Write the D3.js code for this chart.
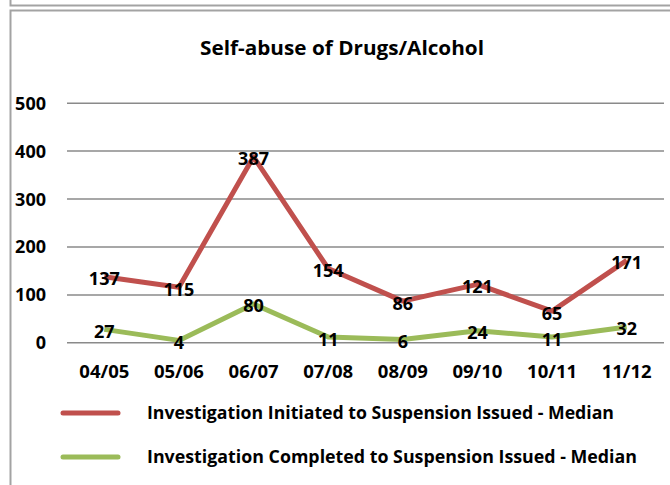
<!DOCTYPE html>
<html><head><meta charset="utf-8">
<script src="https://cdn.jsdelivr.net/npm/d3@7"></script>
<style>body{margin:0;background:#fff}svg{display:block}text{font-family:"Open Sans",Lato,sans-serif;font-weight:bold;fill:#000}</style>
</head><body>
<svg id="c" width="670" height="485"></svg>
<script>
const categories = ["04/05","05/06","06/07","07/08","08/09","09/10","10/11","11/12"];
const initiated = [137,115,387,154,86,121,65,171];
const completed = [27,4,80,11,6,24,11,32];
const yTicks = [0,100,200,300,400,500];
const seriesNames = ["Investigation Initiated to Suspension Issued - Median","Investigation Completed to Suspension Issued - Median"];
const colors = ["#C0504D","#9BBB59"];

const svg = d3.select("#c");
const fr = svg.append("g").attr("fill","none").attr("stroke","#a3a3a3").attr("stroke-width",2);
fr.append("path").attr("d","M10.5,0V5.5H670");
fr.append("path").attr("d","M10.5,485V10.5H670");

const x = d3.scaleBand().domain(categories).range([67,664]);
const y = d3.scaleLinear().domain([0,500]).range([342.3,102.7]);
const cx = c => x(c)+x.bandwidth()/2;

svg.append("text").attr("x",342).attr("y",55).attr("text-anchor","middle")
  .attr("font-size",20).attr("textLength",284).attr("lengthAdjust","spacingAndGlyphs")
  .text("Self-abuse of Drugs/Alcohol");

const yAxis = d3.axisLeft(y).tickValues(yTicks).tickSize(-(664-67)).tickFormat(d3.format("d")).tickPadding(21);
const ga = svg.append("g").attr("transform","translate(67,0)").call(yAxis);
ga.select(".domain").remove();
ga.selectAll(".tick line").attr("stroke","#8a8a8a").attr("stroke-width",1.5);
ga.selectAll(".tick text").attr("font-size",18).attr("dy","0.36em").attr("font-family","Open Sans").style("font-weight","bold");

const xAxis = d3.axisBottom(x).tickSize(0).tickPadding(0);
const gx = svg.append("g").attr("transform","translate(0,371)").call(xAxis);
gx.select(".domain").remove();
gx.selectAll(".tick text").attr("font-size",18.5).attr("dy","0.36em").attr("y",0).style("font-weight","bold").attr("font-family","Open Sans");

const line = d3.line().x((d,i)=>cx(categories[i])).y(d=>y(d));
[initiated,completed].forEach((s,k)=>{
  svg.append("path").datum(s).attr("d",line).attr("fill","none")
    .attr("stroke",colors[k]).attr("stroke-width",5).attr("stroke-linejoin","round");
});
[initiated,completed].forEach((s,k)=>{
  svg.append("g").selectAll("text").data(s).join("text")
    .attr("x",(d,i)=>cx(categories[i])).attr("y",d=>y(d)+8.5)
    .attr("text-anchor","middle").attr("font-size",18).text(d=>d);
});

const legY = [413,457], legW=[467,490];
seriesNames.forEach((n,k)=>{
  svg.append("line").attr("x1",63).attr("x2",118).attr("y1",legY[k]).attr("y2",legY[k])
    .attr("stroke",colors[k]).attr("stroke-width",5).attr("stroke-linecap","round");
  svg.append("text").attr("x",147).attr("y",legY[k]+6).attr("font-size",17.5)
    .attr("textLength",legW[k]).attr("lengthAdjust","spacingAndGlyphs").text(n);
});
</script>
</body></html>
